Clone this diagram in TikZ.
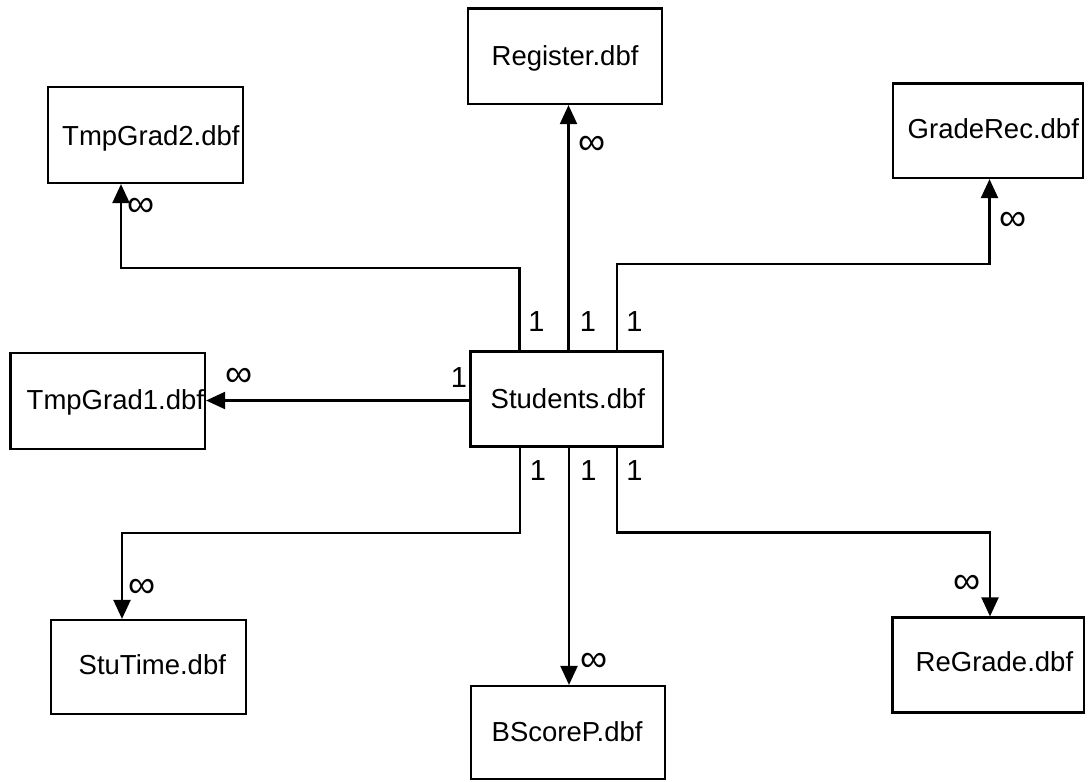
\documentclass[tikz,border=0pt]{standalone}
\usepackage{fontspec}
\setmainfont{Liberation Sans}
\usetikzlibrary{arrows.meta}
\begin{document}
\begin{tikzpicture}[x=1pt,y=-1pt,
  tbox/.style={draw, line width=2.2pt, inner sep=0pt},
  boxtext/.style={anchor=base west, inner sep=0pt, font=\fontsize{27.5}{30}\selectfont},
  cardone/.style={anchor=center, inner sep=0pt, font=\fontsize{29}{32}\selectfont},
  cardinf/.style={anchor=center, inner sep=0pt, font=\fontsize{38}{40}\selectfont},
  conn/.style={line width=2.2pt, -{Triangle[length=19pt,width=17pt]}}]
\useasboundingbox (0,0) rectangle (1090,782);
\fill[white] (0,0) rectangle (1090,782);

% boxes
\node[tbox, minimum width=194pt, minimum height=95.5pt] (reg) at (565,56.25) {};
\node[tbox, minimum width=195pt, minimum height=96pt] (tg2) at (145.5,135) {};
\node[tbox, minimum width=190pt, minimum height=94.5pt] (grec) at (988,130.75) {};
\node[tbox, minimum width=192.5pt, minimum height=95pt] (stu) at (566.75,399) {};
\node[tbox, minimum width=194.5pt, minimum height=96pt] (tg1) at (107.75,401) {};
\node[tbox, minimum width=195pt, minimum height=94pt] (stt) at (148.5,667) {};
\node[tbox, minimum width=194pt, minimum height=93pt] (bsp) at (568,732.5) {};
\node[tbox, minimum width=191.5pt, minimum height=95pt] (rgr) at (988.25,665) {};

% box texts
\node[boxtext] (treg) at (491.5,65) {Register.dbf};
\node[boxtext] (ttg2) at (62,145) {TmpGrad2.dbf};
\node[boxtext] (tgrec) at (907.5,138.5) {GradeRec.dbf};
\node[boxtext] (tstu) at (490.5,408) {Students.dbf};
\node[boxtext] (ttg1) at (26.5,409) {TmpGrad1.dbf};
\node[boxtext] (tstt) at (78.5,674) {StuTime.dbf};
\node[boxtext] (tbsp) at (491.5,741) {BScoreP.dbf};
\node[boxtext] (trgr) at (915.5,671) {ReGrade.dbf};

% bend points
\coordinate (a1) at (519.5,268); \coordinate (b1) at (121,268);
\coordinate (v2) at (568.5,0);
\coordinate (a3) at (617,264); \coordinate (b3) at (989.5,264);
\coordinate (h4) at (0,400.5);
\coordinate (a5) at (520,533); \coordinate (b5) at (122,533);
\coordinate (v6) at (569,0);
\coordinate (a7) at (617,532.5); \coordinate (b7) at (990,532.5);

% connectors
\draw[conn] (a1 |- stu.north) -- (a1) -- (b1) -- (b1 |- tg2.south);
\draw[conn] (v2 |- stu.north) -- (v2 |- reg.south);
\draw[conn] (a3 |- stu.north) -- (a3) -- (b3) -- (b3 |- grec.south);
\draw[conn] (h4 -| stu.west) -- (h4 -| tg1.east);
\draw[conn] (a5 |- stu.south) -- (a5) -- (b5) -- (b5 |- stt.north);
\draw[conn] (v6 |- stu.south) -- (v6 |- bsp.north);
\draw[conn] (a7 |- stu.south) -- (a7) -- (b7) -- (b7 |- rgr.north);

% cardinalities
\node[cardone] (c1) at (536.5,321.5) {1};
\node[cardone] (c2) at (588,322) {1};
\node[cardone] (c3) at (634.5,322) {1};
\node[cardone] (c4) at (459,378) {1};
\node[cardone] (c5) at (538,471) {1};
\node[cardone] (c6) at (588.5,471) {1};
\node[cardone] (c7) at (634.5,471) {1};

\node[cardinf] (m1) at (141,207.5) {∞};
\node[cardinf] (m2) at (592.5,145.5) {∞};
\node[cardinf] (m3) at (1013,221.7) {∞};
\node[cardinf] (m4) at (239,377.5) {∞};
\node[cardinf] (m5) at (142.5,588.5) {∞};
\node[cardinf] (m6) at (593.7,662.7) {∞};
\node[cardinf] (m7) at (967.4,584.3) {∞};
\end{tikzpicture}
\end{document}
